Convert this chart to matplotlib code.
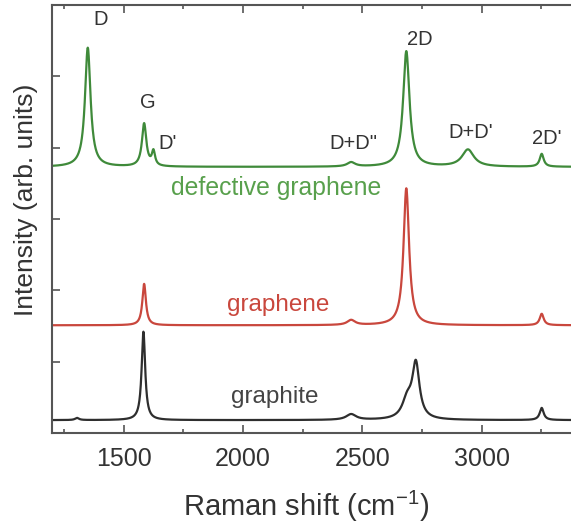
import numpy as np
import matplotlib
matplotlib.use("Agg")
import matplotlib.pyplot as plt

plt.rcParams['font.family'] = ['Liberation Sans', 'DejaVu Sans']

# ---------- data: Raman peaks ----------
# (centre cm-1, height above baseline, FWHM cm-1)
defect_base = 3.73
defect_pos = [1350, 1586, 1625, 2453, 2684, 2942, 3251]
defect_amp = [1.67, 0.60, 0.20, 0.06, 1.62, 0.24, 0.18]
defect_fwhm = [28, 22, 16, 40, 32, 60, 20]

graphene_base = 1.51
graphene_pos = [1586, 2453, 2684, 3251]
graphene_amp = [0.58, 0.07, 1.92, 0.16]
graphene_fwhm = [18, 40, 28, 20]

graphite_base = 0.18
graphite_pos = [1305, 1583, 2453, 2688, 2724, 3251]
graphite_amp = [0.03, 1.24, 0.08, 0.26, 0.76, 0.17]
graphite_fwhm = [20, 18, 50, 50, 36, 20]

peak_labels = ["D", "G", "D'", 'D+D"', "2D", "D+D'", "2D'"]
peak_label_x = [1405, 1601, 1685, 2463, 2739, 2952, 3273]
peak_label_y = [5.80, 4.63, 4.06, 4.06, 5.52, 4.21, 4.13]

shift = np.arange(1200, 3401, 1.0)


def spectrum(base, pos, amp, fwhm):
    y = np.full_like(shift, base)
    for c, h, w in zip(pos, amp, fwhm):
        y += h / (1 + ((shift - c) / (w / 2)) ** 2)
    return y


green = "#3f8a3a"
red = "#c9473d"
dark = "#2e2e2e"

fig = plt.figure(figsize=(5.71, 5.31), dpi=100)
ax = fig.add_axes([0.091, 0.1846, 0.920, 0.806])

ax.plot(shift, spectrum(defect_base, defect_pos, defect_amp, defect_fwhm), color=green, lw=1.6)
ax.plot(shift, spectrum(graphene_base, graphene_pos, graphene_amp, graphene_fwhm), color=red, lw=1.6)
ax.plot(shift, spectrum(graphite_base, graphite_pos, graphite_amp, graphite_fwhm), color=dark, lw=1.6)

for lab, x, y in zip(peak_labels, peak_label_x, peak_label_y):
    ax.text(x, y, lab, ha="center", va="center", fontsize=14.5, color="#333333")

ax.text(2137, 3.43, "defective graphene", ha="center", va="center", fontsize=17.8, color="#58a04c")
ax.text(2146, 1.79, "graphene", ha="center", va="center", fontsize=17.5, color=red)
ax.text(2133, 0.50, "graphite", ha="center", va="center", fontsize=17.5, color="#444444")

ax.set_xlim(1200, 3400)
ax.set_ylim(0, 6)
ax.set_xticks([1500, 2000, 2500, 3000])
ax.set_xticks(np.arange(1250, 3400, 250), minor=True)
ax.set_yticks([1, 2, 3, 4, 5])
ax.set_yticklabels([])
ax.tick_params(axis="x", which="both", direction="in", top=True, labelsize=18,
               colors="#555555", labelcolor="#333333", pad=10)
ax.tick_params(axis="x", which="major", length=6, width=1.2)
ax.tick_params(axis="x", which="minor", length=3, width=1.2)
ax.tick_params(axis="y", direction="in", length=6, width=1.2, colors="#555555")
for s in ax.spines.values():
    s.set_color("#555555")
    s.set_linewidth(1.5)

ax.set_xlabel(r"Raman shift (cm$^{\mathregular{-1}}$)", fontsize=21, color="#333333")
ax.xaxis.set_label_coords(0.483, -0.172)
ax.xaxis.label.set_va("center")
ax.set_ylabel("Intensity (arb. units)", fontsize=19, color="#333333")
ax.yaxis.set_label_coords(-0.0495, 0.544)
ax.yaxis.label.set_va("center")

fig.savefig("out.png", dpi=100)
